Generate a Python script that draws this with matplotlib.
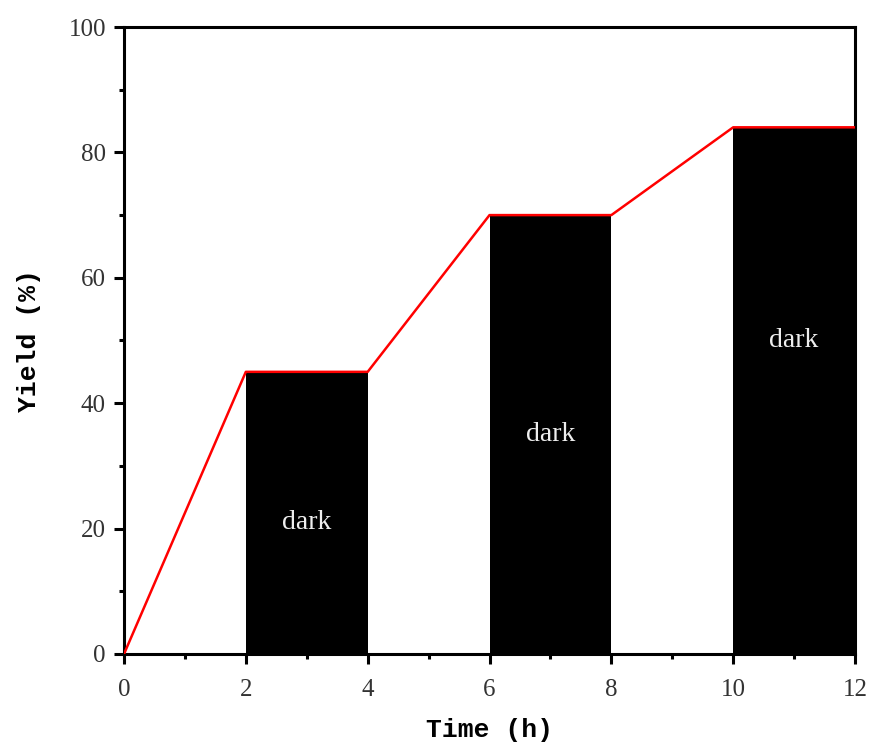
import matplotlib.pyplot as plt
import numpy as np
from matplotlib.ticker import MultipleLocator

# dark periods (start, end, yield at end of light period)
dark_start = [2, 6, 10]
dark_end = [4, 8, 12]
dark_height = [45, 70, 84]
label_y = [21, 35, 50]

# yield curve
t = [0, 2, 4, 6, 8, 10, 12]
yld = [0, 45, 45, 70, 70, 84, 84]

fig = plt.figure(figsize=(8.69, 7.44), dpi=100)
ax = fig.add_axes([0.1427, 0.121, 0.8412, 0.8427])

widths = np.array(dark_end) - np.array(dark_start)
ax.bar(dark_start, dark_height, width=widths, align='edge', color='black', zorder=2)
for x0, w, ly in zip(dark_start, widths, label_y):
    ax.text(x0 + w / 2, ly, 'dark', color='#eeeeee', ha='center', va='center',
            fontsize=20, family='Liberation Serif', zorder=4)

ax.plot(t, yld, color='red', lw=1.8, zorder=3)

ax.set_xlim(0, 12)
ax.set_ylim(0, 100)
ax.xaxis.set_major_locator(MultipleLocator(2))
ax.xaxis.set_minor_locator(MultipleLocator(1))
ax.yaxis.set_major_locator(MultipleLocator(20))
ax.yaxis.set_minor_locator(MultipleLocator(10))
ax.tick_params(which='major', direction='out', length=7, width=2.2, labelsize=18, pad=6)
ax.tick_params(axis='x', which='major', pad=11)
ax.tick_params(which='minor', direction='out', length=3.5, width=2.2)
for lab in ax.get_xticklabels() + ax.get_yticklabels():
    lab.set_family('Liberation Serif')
    lab.set_color('#333333')
for s in ax.spines.values():
    s.set_linewidth(2.2)

ax.set_xlabel('Time (h)', fontsize=19, family='Liberation Mono', fontweight='bold', labelpad=12)
ax.set_ylabel('Yield (%)', fontsize=19, family='Liberation Mono', fontweight='bold', labelpad=20)

fig.savefig('out.png', dpi=100)
